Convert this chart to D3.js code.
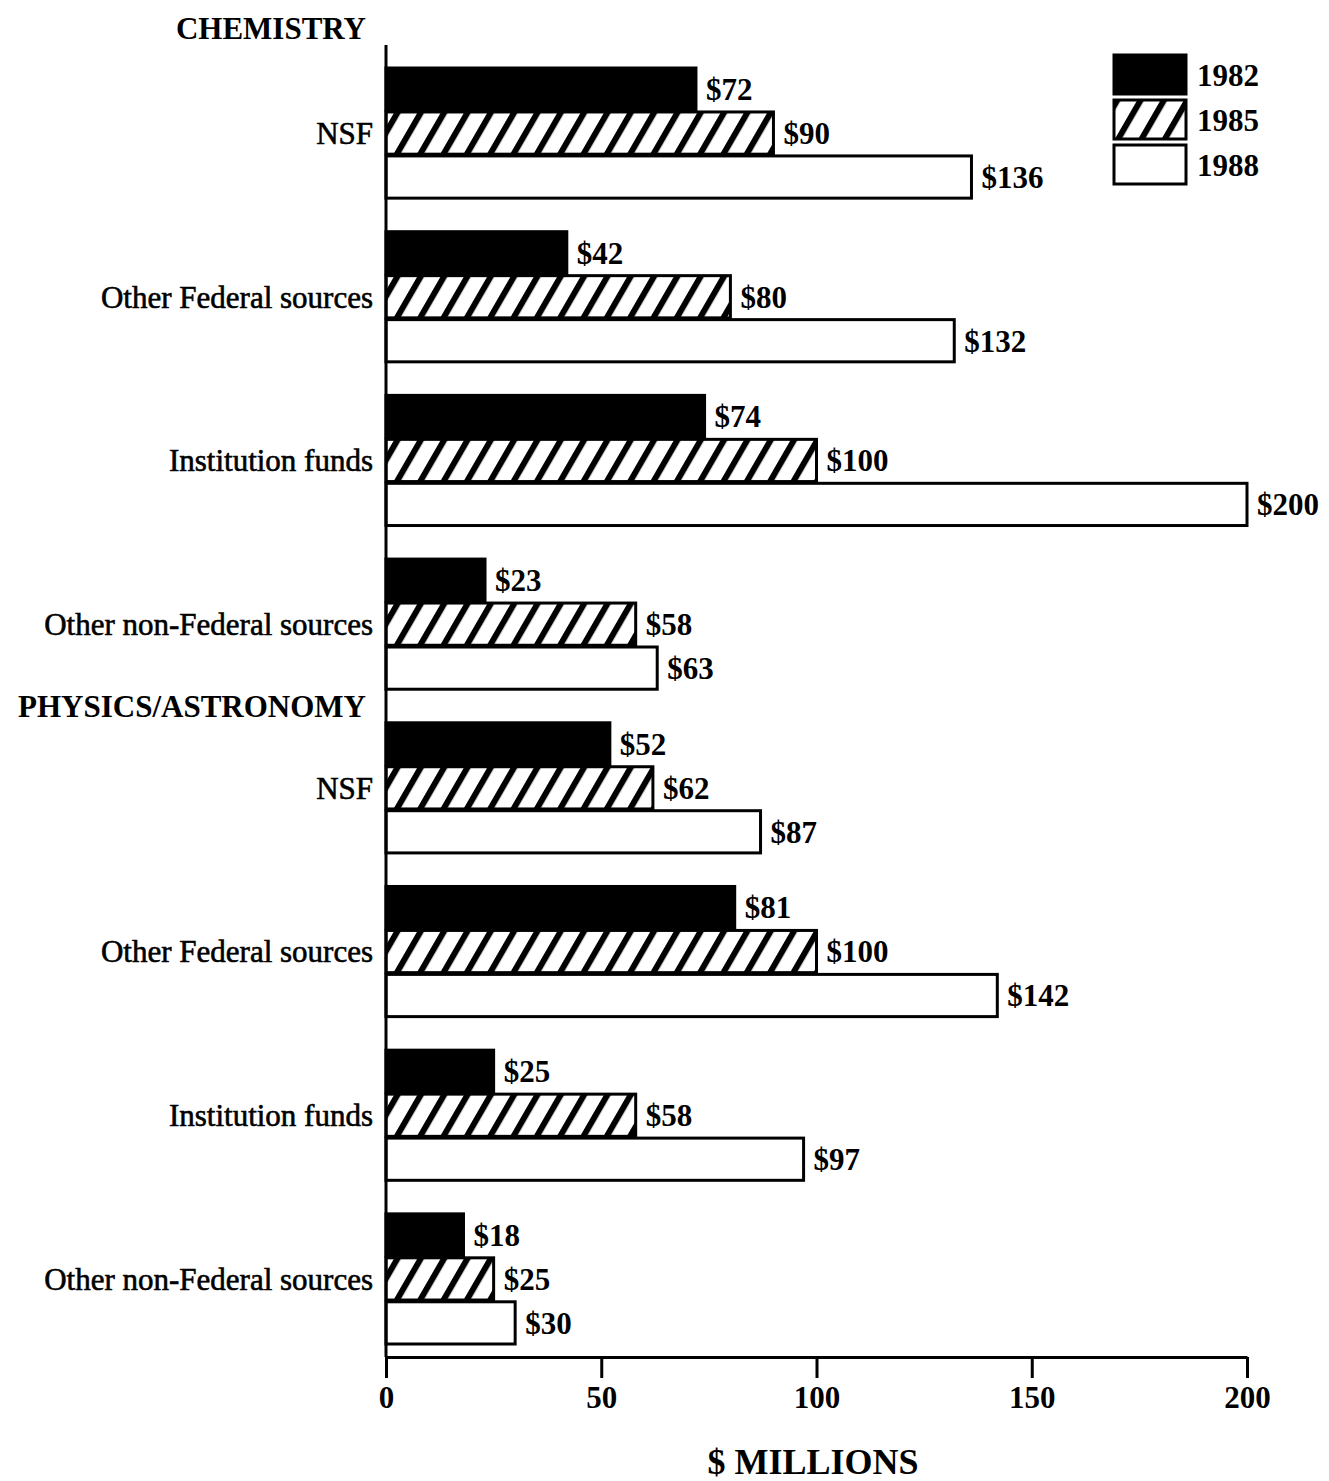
<!DOCTYPE html>
<html>
<head>
<meta charset="utf-8">
<script src="https://cdn.jsdelivr.net/npm/d3@7"></script>
<style>
  body { margin: 0; background: #fff; }
  text { font-family: "Liberation Serif", "Times New Roman", serif; fill: #000; }
</style>
</head>
<body>
<svg id="chart" width="1329" height="1481"></svg>
<script>
// data ($ millions)
var years = ["1982", "1985", "1988"];
var sources = ["NSF", "Other Federal sources", "Institution funds", "Other non-Federal sources"];
var fields = ["CHEMISTRY", "PHYSICS/ASTRONOMY"];

var chem1982 = [72, 42, 74, 23];
var chem1985 = [90, 80, 100, 58];
var chem1988 = [136, 132, 200, 63];

var phys1982 = [52, 81, 25, 18];
var phys1985 = [62, 100, 58, 25];
var phys1988 = [87, 142, 97, 30];

var xTicks = [0, 50, 100, 150, 200];

// build rows: one per field/source pair
var rows = [];
sources.forEach(function(s, i) {
  rows.push({ field: fields[0], source: s, values: [chem1982[i], chem1985[i], chem1988[i]] });
});
sources.forEach(function(s, i) {
  rows.push({ field: fields[1], source: s, values: [phys1982[i], phys1985[i], phys1988[i]] });
});

var svg = d3.select("#chart");

var x = d3.scaleLinear().domain([0, 200]).range([386, 1247]);

var y = d3.scaleBand()
  .domain(d3.range(rows.length))
  .range([68, 1344])
  .paddingInner(0.205)
  .paddingOuter(0);

var yInner = d3.scaleBand()
  .domain(years)
  .range([0, y.bandwidth()])
  .paddingInner(0.04);

// hatch pattern for 1985
var defs = svg.append("defs");
defs.append("pattern")
  .attr("id", "hatch")
  .attr("patternUnits", "userSpaceOnUse")
  .attr("width", 20.2)
  .attr("height", 20)
  .attr("patternTransform", "rotate(30)")
  .append("rect")
  .attr("x", 0).attr("y", 0)
  .attr("width", 6)
  .attr("height", 20)
  .attr("fill", "#000");

var fills = { "1982": "#000", "1985": "url(#hatch)", "1988": "#fff" };

//棒グラフ
var groups = svg.selectAll("g.row")
  .data(rows)
  .enter().append("g")
  .attr("class", "row")
  .attr("transform", function(d, i) { return "translate(0," + y(i) + ")"; });

groups.selectAll("rect")
  .data(function(d) { return d.values.map(function(v, j) { return { year: years[j], value: v }; }); })
  .enter().append("rect")
  .attr("x", x(0))
  .attr("y", function(d) { return yInner(d.year); })
  .attr("width", function(d) { return x(d.value) - x(0); })
  .attr("height", yInner.bandwidth())
  .attr("fill", function(d) { return fills[d.year]; })
  .attr("stroke", "#000")
  .attr("stroke-width", 3);

groups.selectAll("text.val")
  .data(function(d) { return d.values.map(function(v, j) { return { year: years[j], value: v }; }); })
  .enter().append("text")
  .attr("class", "val")
  .attr("x", function(d) { return x(d.value) + 10; })
  .attr("y", function(d) { return yInner(d.year) + yInner.bandwidth() / 2; })
  .attr("dy", "0.35em")
  .attr("font-size", 31)
  .attr("font-weight", "bold")
  .text(function(d) { return "$" + d.value; });

//カテゴリ名
groups.append("text")
  .attr("x", 373)
  .attr("y", y.bandwidth() / 2)
  .attr("dy", "0.35em")
  .attr("text-anchor", "end")
  .attr("font-size", 31)
  .attr("stroke", "#000")
  .attr("stroke-width", 0.6)
  .text(function(d) { return d.source; });

// field headings
svg.append("text")
  .attr("x", 366)
  .attr("y", y(0) - 40)
  .attr("dy", "0.35em")
  .attr("text-anchor", "end")
  .attr("font-size", 31)
  .attr("font-weight", "bold")
  .text(fields[0]);

svg.append("text")
  .attr("x", 366)
  .attr("y", (y(3) + y.bandwidth() + y(4)) / 2)
  .attr("dy", "0.35em")
  .attr("text-anchor", "end")
  .attr("font-size", 31)
  .attr("font-weight", "bold")
  .text(fields[1]);

// axes
svg.append("line")
  .attr("x1", x(0)).attr("x2", x(0))
  .attr("y1", 45).attr("y2", 1357)
  .attr("stroke", "#000")
  .attr("stroke-width", 3);

var xAxis = svg.append("g")
  .attr("transform", "translate(0,1357)")
  .call(d3.axisBottom(x).tickValues(xTicks).tickSize(21).tickPadding(8).tickSizeOuter(0));

xAxis.select(".domain").attr("stroke-width", 3);
xAxis.selectAll(".tick line").attr("stroke-width", 3);
xAxis.selectAll(".tick text")
  .attr("font-family", "Liberation Serif, serif")
  .attr("font-size", 31)
  .attr("font-weight", "bold");

svg.append("text")
  .attr("x", 813)
  .attr("y", 1474)
  .attr("text-anchor", "middle")
  .attr("font-size", 36)
  .attr("font-weight", "bold")
  .text("$ MILLIONS");

// legend
var legend = svg.append("g").attr("transform", "translate(1114,55)");
var leg = legend.selectAll("g")
  .data(years)
  .enter().append("g")
  .attr("transform", function(d, i) { return "translate(0," + (i * 45) + ")"; });

leg.append("rect")
  .attr("width", 72)
  .attr("height", 39)
  .attr("fill", function(d) { return fills[d]; })
  .attr("stroke", "#000")
  .attr("stroke-width", 3);

leg.append("text")
  .attr("x", 83)
  .attr("y", 20)
  .attr("dy", "0.35em")
  .attr("font-size", 31)
  .attr("font-weight", "bold")
  .text(function(d) { return d; });
</script>
</body>
</html>
